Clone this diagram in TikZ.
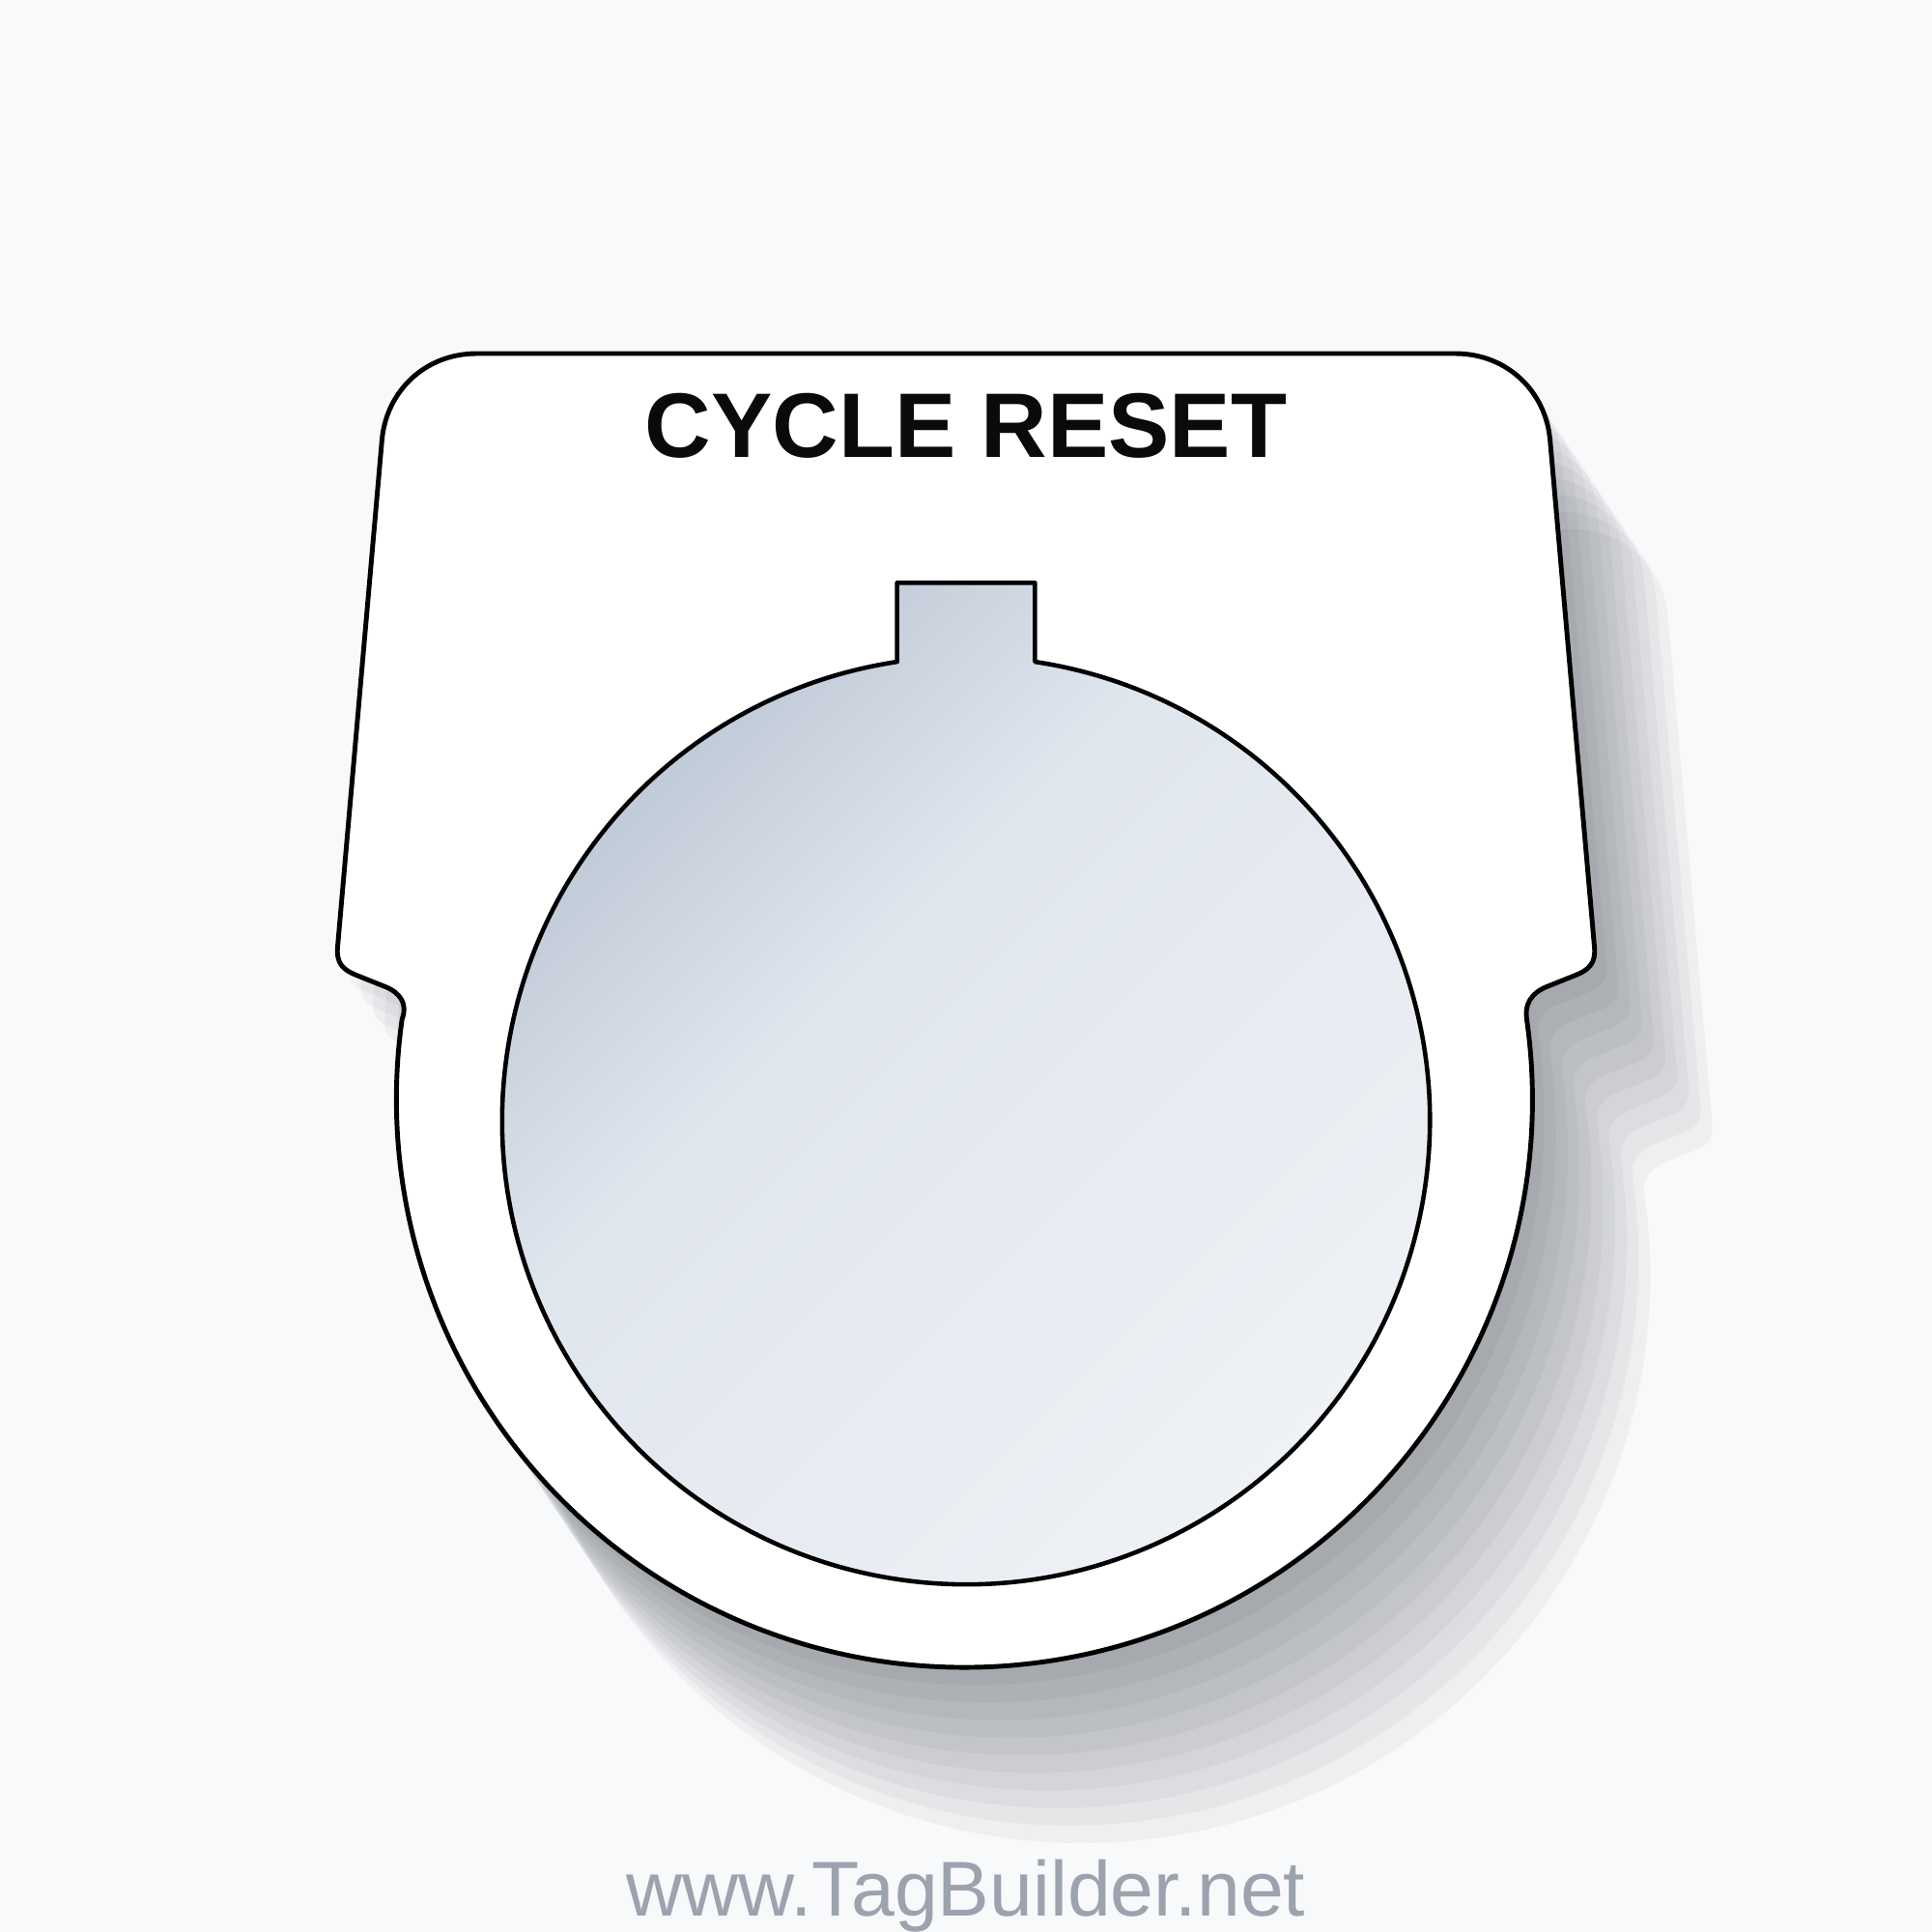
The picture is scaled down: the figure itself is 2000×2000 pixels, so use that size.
\documentclass[tikz,border=0pt]{standalone}
\usepackage{fontspec}
\setmainfont{Liberation Sans}
\definecolor{bgc}{HTML}{F8F9FA}
\definecolor{shadowc}{HTML}{1E2530}
\definecolor{gA}{HTML}{B4BFCF}
\definecolor{gA2}{HTML}{C3CCD9}
\definecolor{gB}{HTML}{E0E6EE}
\definecolor{gC}{HTML}{F3F5F8}
\definecolor{titlec}{HTML}{0A0A0A}
\definecolor{urlc}{HTML}{9CA3AF}
\pgfdeclarehorizontalshading{innergrad}{100bp}{color(0bp)=(gA); color(14.64bp)=(gA); color(28.8bp)=(gA2); color(41.5bp)=(gB); color(85.36bp)=(gC); color(100bp)=(gC)}
\newcommand{\tagpath}{(493.6,366) -- (1506.4,366)
 .. controls (1560.4,366) and (1600.2,405.4) .. (1604.6,455.4)
 -- (1650.5,980)
 .. controls (1652.2,997) and (1645,1004) .. (1631,1009.5)
 -- (1601,1021.5)
 .. controls (1585,1028) and (1578,1040) .. (1580.4,1054.8)
 arc[start angle=-8.14, end angle=188.14, radius=588]
 .. controls (422,1040) and (415,1028) .. (399,1021.5)
 -- (369,1009.5)
 .. controls (355,1004) and (347.8,997) .. (349.5,980)
 -- (395.4,455.4)
 .. controls (399.8,405.4) and (439.6,366) .. (493.6,366) -- cycle}
\tikzset{
 tagshadow/.style={fill=shadowc, fill opacity=0.042, draw=none},
 tagbody/.style={fill=white, draw=black, line width=1.4pt, line join=round},
 windowhole/.style={shading=innergrad, shading angle=-45, draw=black, line width=1.3pt, line join=round},
 titletext/.style={inner sep=0pt, anchor=base, text=titlec, font=\fontsize{27}{30}\selectfont\bfseries},
 urltext/.style={inner sep=0pt, anchor=base, text=urlc, font=\fontsize{22.9}{26}\selectfont}
}
\begin{document}
\begin{tikzpicture}[x=0.01cm, y=-0.01cm]
\useasboundingbox (0,0) rectangle (2000,2000);
\fill[bgc] (0,0) rectangle (2000,2000);
% stacked shadow copies
\foreach \k in {1,...,10}{
  \fill[tagshadow, shift={({12.2*\k},{18.2*\k})}] \tagpath;
}
% tag body
\draw[tagbody] \tagpath;
% window with key tab
\draw[windowhole] (928.6,685.1) -- (928.6,603.3) -- (1071.4,603.3) -- (1071.4,685.1)
  arc[start angle=-81.45, end angle=261.45, radius=480.2] -- cycle;
% texts
\node[titletext] (title) at (1000,473) {CYCLE RESET};
\node[urltext] (url) at (1000,1983) {www.TagBuilder.net};
\end{tikzpicture}
\end{document}
